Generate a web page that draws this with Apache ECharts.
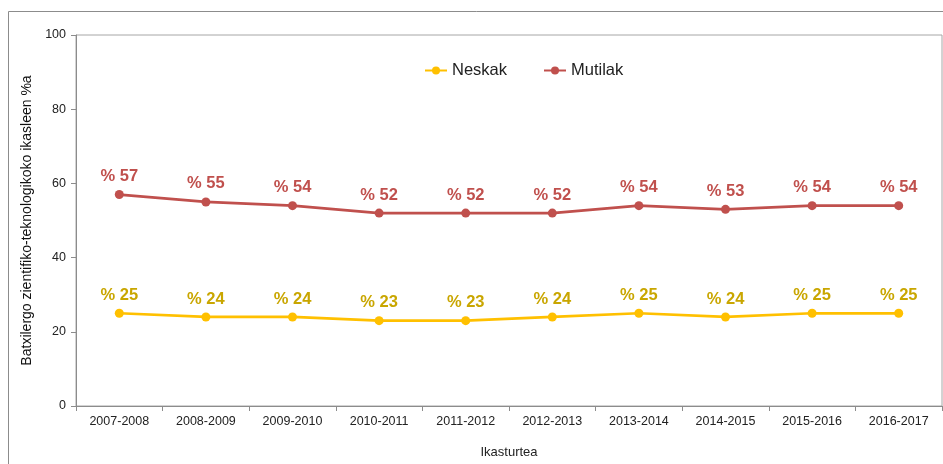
<!DOCTYPE html>
<html><head><meta charset="utf-8">
<script src="https://cdn.jsdelivr.net/npm/echarts@6/dist/echarts.min.js"></script>
<style>html,body{margin:0;padding:0;background:#fff;overflow:hidden}#c{width:943px;height:464px}</style>
</head><body><div id="c"></div>
<script>
const categories = ['2007-2008','2008-2009','2009-2010','2010-2011','2011-2012','2012-2013','2013-2014','2014-2015','2015-2016','2016-2017'];
const neskak = [25,24,24,23,23,24,25,24,25,25];
const mutilak = [57,55,54,52,52,52,54,53,54,54];
const yTicks = [0,20,40,60,80,100];

const chart = echarts.init(document.getElementById('c'), null, {renderer:'canvas'});
const font = 'Arial, "Liberation Sans", sans-serif';
chart.setOption({
  animation:false,
  graphic:[{type:'rect',shape:{x:8.5,y:11.5,width:940,height:460},style:{fill:'none',stroke:'#8c8c8c',lineWidth:1},silent:true}],
  grid:{left:76,right:1,top:35,height:377,show:true,borderColor:'#a6a6a6',borderWidth:1,containLabel:false},
  legend:{top:57,left:419,itemGap:36,itemWidth:22,itemHeight:10,
    textStyle:{fontFamily:font,fontSize:16.5,color:'#222'},
    data:['Neskak','Mutilak']},
  xAxis:{type:'category',data:categories,boundaryGap:true,
    axisLine:{lineStyle:{color:'#8c8c8c'}},
    axisTick:{show:true,length:5,lineStyle:{color:'#8c8c8c'}},
    axisLabel:{fontFamily:font,fontSize:12.5,color:'#222',margin:9},
    name:'Ikasturtea',nameLocation:'middle',nameGap:40,
    nameTextStyle:{fontFamily:font,fontSize:13,color:'#222'}},
  yAxis:{type:'value',min:0,max:100,interval:20,
    axisLine:{show:true,lineStyle:{color:'#8c8c8c'}},
    axisTick:{show:true,length:5,lineStyle:{color:'#8c8c8c'}},
    splitLine:{show:false},
    axisLabel:{fontFamily:font,fontSize:12.5,color:'#222',margin:10,
      formatter:v=>yTicks.includes(v)?String(v):''},
    name:'Batxilergo zientifiko-teknologikoko ikasleen %a',nameLocation:'middle',nameGap:38,
    nameTextStyle:{fontFamily:font,fontSize:14,color:'#111'}},
  series:[
    {name:'Neskak',type:'line',data:neskak,symbol:'circle',symbolSize:9,
      lineStyle:{color:'#FFC000',width:2.75},itemStyle:{color:'#FFC000'},
      label:{show:true,position:'top',distance:5,formatter:p=>'% '+p.value,
        fontFamily:font,fontSize:16.5,fontWeight:'bold',color:'#C9A600'}},
    {name:'Mutilak',type:'line',data:mutilak,symbol:'circle',symbolSize:9,
      lineStyle:{color:'#C0504D',width:2.75},itemStyle:{color:'#C0504D'},
      label:{show:true,position:'top',distance:5,formatter:p=>'% '+p.value,
        fontFamily:font,fontSize:16.5,fontWeight:'bold',color:'#C0504D'}}
  ]
});
</script></body></html>
